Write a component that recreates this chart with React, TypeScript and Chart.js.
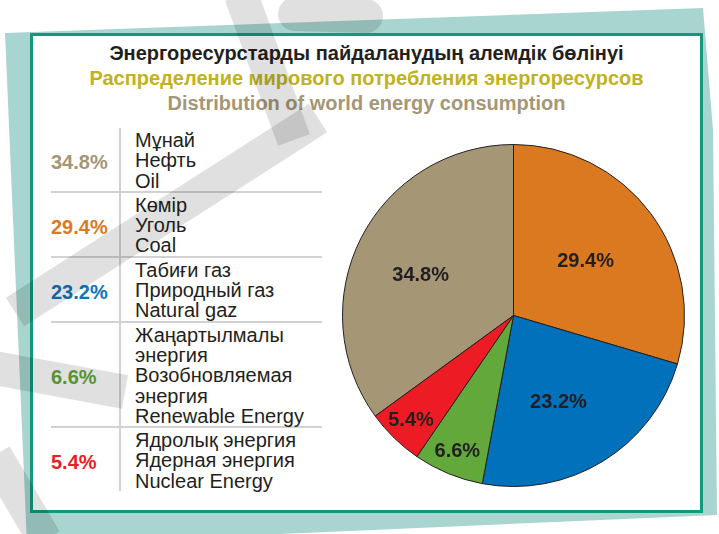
import React, { useEffect, useRef } from 'react';
import { Chart, registerables } from 'chart.js';

Chart.register(...registerables);

// ---- data (legend order; the pie keeps the same cyclic order) ----
const sharesPct = [34.8, 29.4, 23.2, 6.6, 5.4];
const namesKk = ['Мұнай', 'Көмір', 'Табиғи газ', 'Жаңартылмалы энергия', 'Ядролық энергия'];
const namesRu = ['Нефть', 'Уголь', 'Природный газ', 'Возобновляемая энергия', 'Ядерная энергия'];
const namesEn = ['Oil', 'Coal', 'Natural gaz', 'Renewable Energy', 'Nuclear Energy'];
const sliceColors = ['#A59676', '#DB7920', '#0071BA', '#62A83B', '#ED1C24'];
const pctColors = ['#A59676', '#DC7A24', '#1273BA', '#62A83B', '#ED1C24'];

const titleKk = 'Энергоресурстарды пайдаланудың алемдік бөлінуі';
const titleRu = 'Распределение мирового потребления энергоресурсов';
const titleEn = 'Distribution of world energy consumption';

const FONT = '"Liberation Sans", Arial, Helvetica, sans-serif';
const fmtPct = (v: number) => v.toFixed(1) + '%';

const sliceLabelPlugin = {
  id: 'sliceLabels',
  afterDatasetsDraw(chart: any) {
    const ctx = chart.ctx;
    const meta = chart.getDatasetMeta(0);
    const vals = chart.data.datasets[0].data as number[];
    const total = vals.reduce((a, b) => a + b, 0);
    ctx.save();
    ctx.font = `bold 20px ${FONT}`;
    ctx.fillStyle = '#231F20';
    ctx.textAlign = 'center';
    ctx.textBaseline = 'middle';
    meta.data.forEach((arc: any, i: number) => {
      const p = arc.getProps(['x', 'y', 'startAngle', 'endAngle', 'outerRadius'], true);
      const mid = (p.startAngle + p.endAngle) / 2;
      const f = vals[i] / total < 0.1 ? 0.86 : 0.57;
      ctx.fillText(fmtPct(vals[i]), p.x + Math.cos(mid) * p.outerRadius * f - (f < 0.8 ? 6 : 0), p.y + Math.sin(mid) * p.outerRadius * f + (f < 0.8 ? 4 : 0));
    });
    ctx.restore();
  },
};

function PieChart() {
  const ref = useRef<HTMLCanvasElement | null>(null);
  useEffect(() => {
    if (!ref.current) return;
    const total = sharesPct.reduce((a, b) => a + b, 0);
    const chart = new Chart(ref.current, {
      type: 'pie',
      data: {
        labels: namesEn,
        datasets: [
          {
            data: sharesPct,
            backgroundColor: sliceColors,
            borderColor: '#231F20',
            borderWidth: 1,
          },
        ],
      },
      options: {
        responsive: false,
        animation: false,
        rotation: -(sharesPct[0] / total) * 360,
        layout: { padding: 0 },
        plugins: { legend: { display: false }, tooltip: { enabled: false } },
      },
      plugins: [sliceLabelPlugin],
    });
    return () => chart.destroy();
  }, []);
  return (
    <canvas
      ref={ref}
      width={343}
      height={343}
      style={{ position: 'absolute', left: 342, top: 144, width: 343, height: 343 }}
    />
  );
}

export default function App() {
  const titleStyle: React.CSSProperties = {
    fontFamily: FONT,
    fontWeight: 'bold',
    fontSize: 20,
    lineHeight: '25px',
    textAlign: 'center',
    whiteSpace: 'nowrap',
  };
  return (
    <div
      style={{
        position: 'fixed',
        left: 0,
        top: 0,
        width: 719,
        height: 534,
        overflow: 'hidden',
        background: '#FFFFFF',
      }}
    >
      <svg width={719} height={534} style={{ position: 'absolute', left: 0, top: 0 }}>
        <polygon points="5,33 703,8 713,130 717,515 27,545" fill="#A8D5CF" />
      </svg>
      <div
        style={{
          position: 'absolute',
          left: 30,
          top: 33,
          width: 673,
          height: 480,
          boxSizing: 'border-box',
          border: '3px solid #12997C',
          background: '#FFFFFF',
        }}
      />
      <div style={{ position: 'absolute', left: 30, top: 41, width: 673 }}>
        <div style={{ ...titleStyle, color: '#231F20' }}>{titleKk}</div>
        <div style={{ ...titleStyle, color: '#C0B220' }}>{titleRu}</div>
        <div style={{ ...titleStyle, color: '#A59676' }}>{titleEn}</div>
      </div>

      <div style={{ position: 'absolute', left: 51, top: 128, width: 271 }}>
        {sharesPct.map((v, i) => (
          <div
            key={i}
            style={{
              display: 'flex',
              alignItems: 'stretch',
              borderBottom: i < sharesPct.length - 1 ? '2px solid #D2D2D2' : 'none',
            }}
          >
            <div
              style={{
                width: 68,
                display: 'flex',
                alignItems: 'center',
                fontFamily: FONT,
                fontWeight: 'bold',
                fontSize: 20,
                color: pctColors[i],
                position: 'relative',
                top: 3,
              }}
            >
              {fmtPct(v)}
            </div>
            <div
              style={{
                borderLeft: '2px solid #D2D2D2',
                paddingLeft: 14,
                paddingTop: 2,
                width: 187,
                fontFamily: FONT,
                fontSize: 20,
                lineHeight: '20.3px',
                color: '#231F20',
              }}
            >
              <div>{namesKk[i]}</div>
              <div>{namesRu[i]}</div>
              <div>{namesEn[i]}</div>
            </div>
          </div>
        ))}
      </div>

      <PieChart />

      <svg
        width={719}
        height={534}
        style={{ position: 'absolute', left: 0, top: 0, pointerEvents: 'none' }}
      >
        <g stroke="rgba(0,0,0,0.12)" strokeWidth={34} fill="none">
          <line x1={241} y1={-5} x2={294} y2={140} />
          <line x1={295} y1={14} x2={366} y2={16} strokeLinecap="round" />
          <line x1={318} y1={118} x2={15} y2={312} />
          <line x1={-5} y1={368} x2={125} y2={392} />
          <line x1={-5} y1={455} x2={45} y2={540} />
        </g>
      </svg>
    </div>
  );
}
